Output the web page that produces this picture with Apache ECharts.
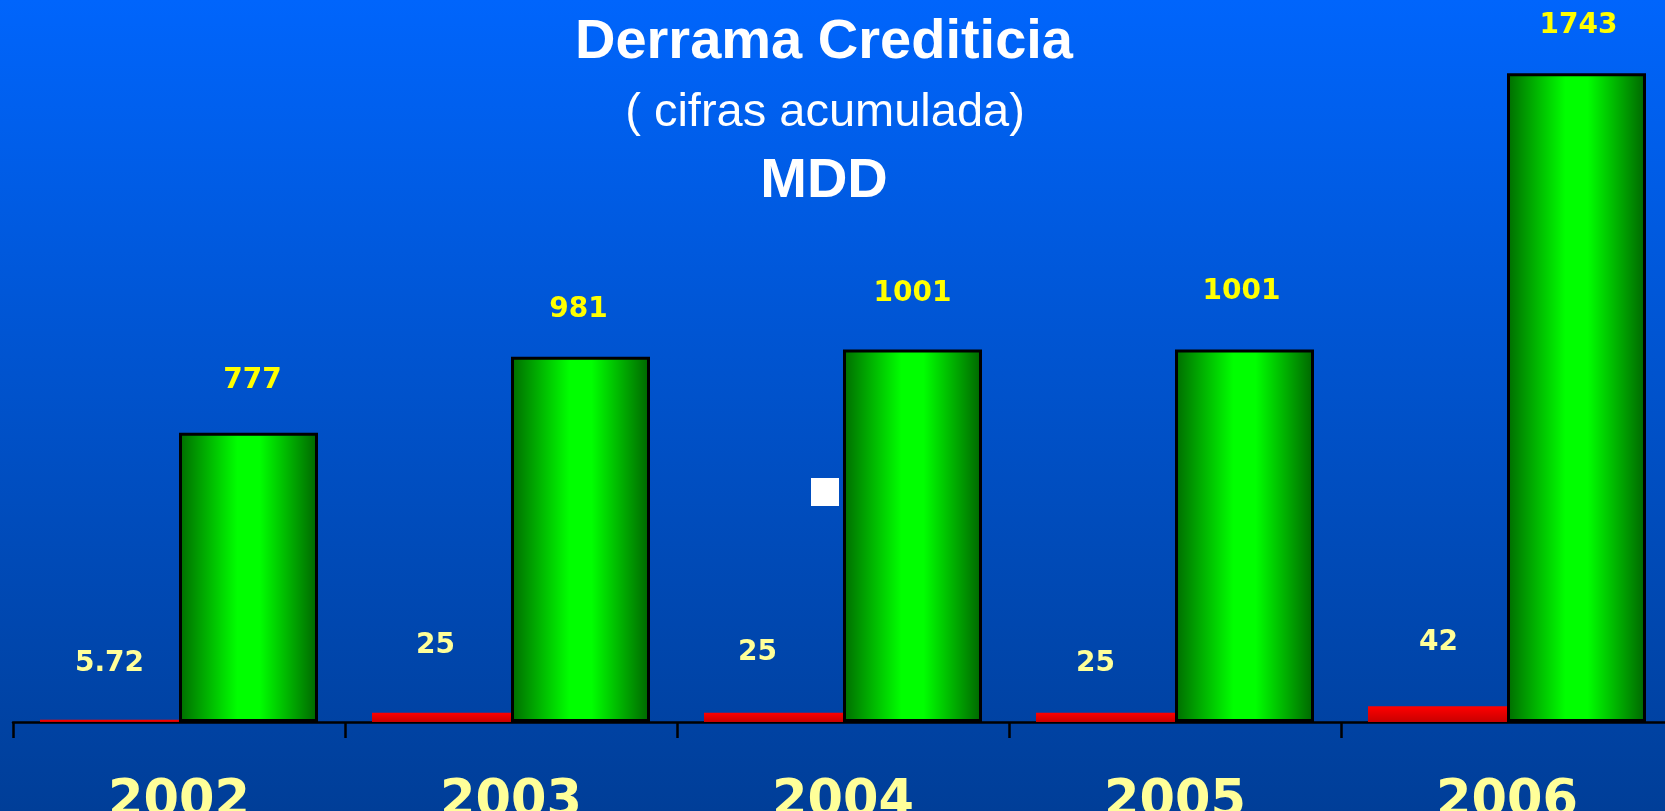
<!DOCTYPE html>
<html>
<head>
<meta charset="utf-8">
<script src="https://cdn.jsdelivr.net/npm/echarts@6/dist/echarts.min.js"></script>
<style>
  html, body { margin: 0; padding: 0; }
  #chart { width: 1665px; height: 811px; background: linear-gradient(#0065fc, #003e98); }
</style>
</head>
<body>
<div id="chart"></div>
<script>
var years = ['2002', '2003', '2004', '2005', '2006'];
var redValues = [5.72, 25, 25, 25, 42];
var greenValues = [777, 981, 1001, 1001, 1743];

// label placement tweaks (the original labels are not quite centred)
var redLabelShift = [[0, -42], [-6, -53], [-16, -46], [-10, -35], [1, -50]];
var greenLabelShift = [[4, -38], [-2, -33], [0, -42], [-3, -44], [2, -33]];

var chart = echarts.init(document.getElementById('chart'));

var greenFill = new echarts.graphic.LinearGradient(0, 0, 1, 0, [
    { offset: 0, color: '#006b00' },
    { offset: 0.42, color: '#00ff00' },
    { offset: 0.58, color: '#00ff00' },
    { offset: 1, color: '#006400' }
]);
var redFill = new echarts.graphic.LinearGradient(0, 0, 0, 1, [
    { offset: 0, color: '#ff0000' },
    { offset: 1, color: '#c80000' }
]);

function withLabels(values, shifts) {
    return values.map(function (v, i) {
        return { value: v, label: { offset: shifts[i] } };
    });
}

chart.setOption({
    animation: false,
    grid: { left: 13, top: 52, bottom: 89, width: 1660, outerBoundsMode: 'none', containLabel: false },
    graphic: [
        { type: 'text', x: 824, y: 43, style: { text: 'Derrama Crediticia', fill: '#ffffff',
            font: 'bold 56px "Liberation Sans", Arial, sans-serif', align: 'center', verticalAlign: 'middle' } },
        { type: 'text', x: 825, y: 113, style: { text: '( cifras acumulada)', fill: '#ffffff',
            font: '47px "Liberation Sans", Arial, sans-serif', align: 'center', verticalAlign: 'middle' } },
        { type: 'text', x: 824, y: 182, style: { text: 'MDD', fill: '#ffffff',
            font: 'bold 56px "Liberation Sans", Arial, sans-serif', align: 'center', verticalAlign: 'middle' } },
        { type: 'rect', shape: { x: 811, y: 478, width: 28, height: 28 }, style: { fill: '#ffffff' } }
    ],
    xAxis: {
        type: 'category',
        data: years,
        axisLine: { lineStyle: { color: '#000000', width: 2.5 } },
        axisTick: { show: true, length: 16, lineStyle: { color: '#000000', width: 2.5 } },
        axisLabel: {
            margin: 55,
            color: '#ffff99',
            fontSize: 51,
            fontWeight: 'bold',
            fontFamily: '"DejaVu Sans", Verdana, sans-serif'
        }
    },
    yAxis: {
        type: 'value',
        min: 0,
        max: 1800,
        show: false,
        splitLine: { show: false }
    },
    series: [
        {
            type: 'bar',
            data: withLabels(redValues, redLabelShift),
            barWidth: 139,
            barGap: '0%',
            itemStyle: { color: redFill },
            label: {
                show: true, position: 'top', distance: 0,
                color: '#ffff99', fontSize: 28, fontWeight: 'bold',
                fontFamily: '"DejaVu Sans", Verdana, sans-serif'
            }
        },
        {
            type: 'bar',
            data: withLabels(greenValues, greenLabelShift),
            barWidth: 139,
            barGap: '0%',
            itemStyle: { color: greenFill, borderColor: '#000000', borderWidth: 3 },
            label: {
                show: true, position: 'top', distance: 0,
                color: '#ffff00', fontSize: 28, fontWeight: 'bold',
                fontFamily: '"DejaVu Sans", Verdana, sans-serif'
            }
        }
    ]
});
</script>
</body>
</html>
